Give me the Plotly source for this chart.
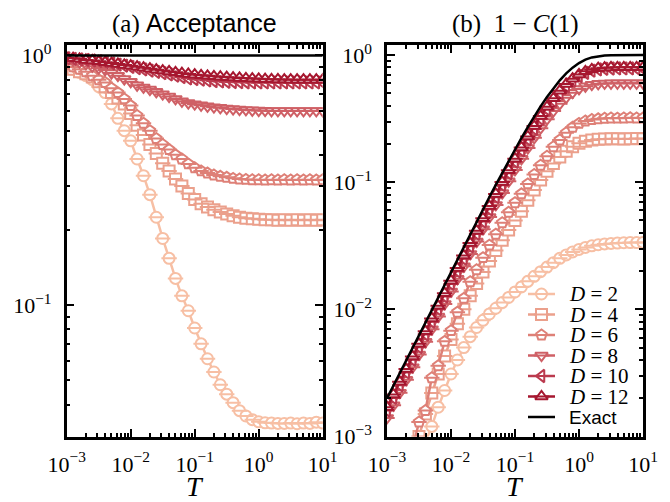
import plotly.graph_objects as go

# ---------------- data ----------------
T = [0.001, 0.001259, 0.001585, 0.001995, 0.002512, 0.003162, 0.003981, 0.005012, 0.00631, 0.007943,
     0.01, 0.01259, 0.01585, 0.01995, 0.02512, 0.03162, 0.03981, 0.05012, 0.0631, 0.07943,
     0.1, 0.1259, 0.1585, 0.1995, 0.2512, 0.3162, 0.3981, 0.5012, 0.631, 0.7943,
     1.0, 1.259, 1.585, 1.995, 2.512, 3.162, 3.981, 5.012, 6.31, 7.943, 10.0]

labels = ["2", "4", "6", "8", "10", "12"]

# (a) Acceptance
acc_D2 = [0.90, 0.88, 0.855, 0.83, 0.80, 0.75, 0.71, 0.64, 0.56, 0.50,
          0.455, 0.385, 0.33, 0.277, 0.225, 0.185, 0.154, 0.128, 0.109, 0.095,
          0.081, 0.070, 0.061, 0.054, 0.048, 0.044, 0.0407, 0.0378, 0.036, 0.0348,
          0.0341, 0.0338, 0.0337, 0.0336, 0.0336, 0.0337, 0.0335, 0.0337, 0.0336, 0.034, 0.0337]
acc_D4 = [0.90, 0.88, 0.86, 0.845, 0.82, 0.785, 0.75, 0.71, 0.675, 0.64,
          0.585, 0.525, 0.48, 0.44, 0.405, 0.37, 0.345, 0.32, 0.30, 0.28,
          0.265, 0.255, 0.247, 0.241, 0.236, 0.232, 0.228, 0.225, 0.223, 0.222,
          0.221, 0.220, 0.220, 0.219, 0.220, 0.219, 0.220, 0.219, 0.220, 0.219, 0.220]
acc_D6 = [0.92, 0.90, 0.88, 0.86, 0.83, 0.80, 0.78, 0.74, 0.71, 0.67,
          0.63, 0.575, 0.535, 0.50, 0.465, 0.44, 0.42, 0.40, 0.385, 0.368,
          0.355, 0.345, 0.338, 0.332, 0.328, 0.325, 0.322, 0.32, 0.319, 0.318,
          0.318, 0.317, 0.318, 0.317, 0.318, 0.317, 0.318, 0.317, 0.318, 0.317, 0.318]
acc_D8 = [0.97, 0.955, 0.94, 0.925, 0.905, 0.89, 0.875, 0.85, 0.83, 0.805,
          0.785, 0.76, 0.745, 0.73, 0.715, 0.70, 0.685, 0.67, 0.655, 0.645,
          0.638, 0.632, 0.626, 0.621, 0.617, 0.613, 0.61, 0.607, 0.605, 0.603,
          0.602, 0.601, 0.60, 0.60, 0.60, 0.60, 0.60, 0.60, 0.60, 0.60, 0.60]
acc_D10 = [0.975, 0.97, 0.965, 0.96, 0.955, 0.95, 0.94, 0.93, 0.92, 0.91,
           0.90, 0.89, 0.88, 0.87, 0.86, 0.85, 0.84, 0.83, 0.82, 0.81,
           0.805, 0.80, 0.795, 0.79, 0.787, 0.785, 0.783, 0.782, 0.781, 0.78,
           0.78, 0.78, 0.78, 0.78, 0.78, 0.78, 0.78, 0.78, 0.78, 0.78, 0.78]
acc_D12 = [0.98, 0.975, 0.97, 0.96, 0.955, 0.948, 0.94, 0.932, 0.925, 0.917,
           0.91, 0.902, 0.893, 0.885, 0.877, 0.87, 0.863, 0.856, 0.849, 0.843,
           0.838, 0.833, 0.829, 0.825, 0.822, 0.819, 0.816, 0.813, 0.81, 0.808,
           0.806, 0.804, 0.803, 0.802, 0.801, 0.80, 0.80, 0.80, 0.80, 0.80, 0.80]
acc_exact = [1.0] * 41

# (b) 1 - C(1)
c1_D2 = [0.0001, 0.00015, 0.0002, 0.0003, 0.0005, 0.0006, 0.0009, 0.0012, 0.0017, 0.0023,
         0.0031, 0.004, 0.005, 0.0061, 0.0072, 0.0082, 0.0092, 0.0102, 0.0113, 0.0124,
         0.0137, 0.015, 0.0166, 0.0182, 0.0198, 0.0215, 0.0233, 0.0252, 0.0268, 0.0283,
         0.0296, 0.0307, 0.0316, 0.0322, 0.0327, 0.033, 0.0332, 0.0334, 0.0335, 0.0335, 0.0336]
c1_D4 = [0.00015, 0.00025, 0.00035, 0.0005, 0.0007, 0.0010, 0.0015, 0.0022, 0.0031, 0.0043,
         0.0058, 0.0077, 0.0100, 0.0128, 0.016, 0.0197, 0.024, 0.029, 0.035, 0.042,
         0.050, 0.059, 0.072, 0.087, 0.104, 0.122, 0.14, 0.158, 0.175, 0.19,
         0.202, 0.21, 0.215, 0.218, 0.219, 0.22, 0.22, 0.219, 0.22, 0.221, 0.22]
c1_D6 = [0.0002, 0.0003, 0.0004, 0.0006, 0.0008, 0.0013, 0.0016, 0.0029, 0.0036, 0.0056,
         0.0068, 0.0095, 0.0122, 0.0165, 0.0205, 0.0255, 0.032, 0.039, 0.048, 0.058,
         0.069, 0.081, 0.097, 0.115, 0.136, 0.16, 0.19, 0.215, 0.245, 0.27,
         0.29, 0.303, 0.311, 0.315, 0.318, 0.32, 0.319, 0.32, 0.321, 0.32, 0.32]
c1_D8 = [0.0014, 0.00176, 0.00221, 0.00279, 0.00351, 0.00441, 0.00555, 0.00698, 0.00877, 0.01102,
         0.01384, 0.01737, 0.02178, 0.02729, 0.03415, 0.04267, 0.05323, 0.06622, 0.08214, 0.1015,
         0.1249, 0.1528, 0.1855, 0.2233, 0.2661, 0.3131, 0.363, 0.4137, 0.4623, 0.5059,
         0.5418, 0.5682, 0.5851, 0.5943, 0.5983, 0.60, 0.60, 0.60, 0.60, 0.60, 0.60]
c1_D10 = [0.0016, 0.00201, 0.00253, 0.00319, 0.00401, 0.00504, 0.00634, 0.00798, 0.01003, 0.01261,
          0.01583, 0.01989, 0.02495, 0.03128, 0.03918, 0.04899, 0.06117, 0.07623, 0.09475, 0.1174,
          0.1448, 0.1776, 0.2167, 0.2623, 0.3146, 0.3729, 0.4362, 0.5023, 0.568, 0.6295,
          0.6827, 0.7247, 0.7539, 0.7716, 0.7803, 0.7837, 0.785, 0.785, 0.785, 0.785, 0.785]
c1_D12 = [0.0017, 0.00214, 0.00269, 0.00339, 0.00426, 0.00536, 0.00674, 0.00848, 0.01066, 0.01339,
          0.01682, 0.02112, 0.0265, 0.0332, 0.0416, 0.052, 0.0649, 0.0808, 0.1004, 0.1243,
          0.1531, 0.1878, 0.2288, 0.2764, 0.3309, 0.3914, 0.4567, 0.5242, 0.5907, 0.6521,
          0.7045, 0.7449, 0.7724, 0.7885, 0.7962, 0.799, 0.80, 0.80, 0.80, 0.80, 0.80]
c1_exact = [0.0020, 0.002515, 0.003165, 0.003982, 0.005011, 0.006305, 0.00793, 0.009974, 0.01254, 0.01576,
            0.0198, 0.02487, 0.0312, 0.03911, 0.049, 0.0613, 0.0765, 0.0954, 0.1186, 0.1469,
            0.1813, 0.2226, 0.2716, 0.329, 0.3949, 0.4687, 0.549, 0.633, 0.7169, 0.7958,
            0.8647, 0.9194, 0.958, 0.9815, 0.9934, 0.9982, 0.9997, 1.0, 1.0, 1.0, 1.0]

acc_series = [acc_D2, acc_D4, acc_D6, acc_D8, acc_D10, acc_D12]
c1_series = [c1_D2, c1_D4, c1_D6, c1_D8, c1_D10, c1_D12]

# ---------------- style ----------------
colors = ["#f7bfa4", "#eba08c", "#de8077", "#cf6066", "#bb3a4e", "#a6172f"]
symbols = ["circle", "square", "pentagon", "triangle-down", "triangle-left", "triangle-up"]
W, H = 670, 502
SERIF = "Liberation Serif"
SANS = "Liberation Sans"
NB = "\u00a0"

fig = go.Figure()

for i in range(6):
    col = colors[i]
    for xa, ya, vals in (("x", "y", acc_series[i]), ("x2", "y2", c1_series[i])):
        fig.add_trace(go.Scatter(
            x=T, y=vals, xaxis=xa, yaxis=ya, mode="lines+markers",
            line=dict(color=col, width=2.5),
            marker=dict(symbol=symbols[i], size=11, color="white", line=dict(color=col, width=2)),
            showlegend=False, hoverinfo="skip"))
        fig.add_trace(go.Scatter(
            x=T, y=vals, xaxis=xa, yaxis=ya, mode="markers",
            marker=dict(symbol="line-ew", size=11, line=dict(color=col, width=2)),
            showlegend=False, hoverinfo="skip"))

fig.add_trace(go.Scatter(x=T, y=acc_exact, xaxis="x", yaxis="y", mode="lines",
                         line=dict(color="black", width=2.5), showlegend=False, hoverinfo="skip"))
fig.add_trace(go.Scatter(x=T, y=c1_exact, xaxis="x2", yaxis="y2", mode="lines",
                         line=dict(color="black", width=2.5), showlegend=False, hoverinfo="skip"))

# ---------------- manual legend (pixel overlay axis) ----------------
leg_rows = [294, 314.5, 335, 355.5, 376, 396.5, 417]
leg_x0, leg_x1, leg_xm, leg_tx = 528, 555, 541.5, 568
for i in range(6):
    yv = leg_rows[i]
    col = colors[i]
    fig.add_trace(go.Scatter(x=[leg_x0, leg_x1], y=[yv, yv], xaxis="x3", yaxis="y3", mode="lines",
                             line=dict(color=col, width=2.5), showlegend=False, hoverinfo="skip"))
    fig.add_trace(go.Scatter(x=[leg_xm], y=[yv], xaxis="x3", yaxis="y3", mode="markers",
                             marker=dict(symbol=symbols[i], size=11, color="white",
                                         line=dict(color=col, width=2)),
                             showlegend=False, hoverinfo="skip"))
    fig.add_trace(go.Scatter(x=[leg_xm], y=[yv], xaxis="x3", yaxis="y3", mode="markers",
                             marker=dict(symbol="line-ew", size=11, line=dict(color=col, width=2)),
                             showlegend=False, hoverinfo="skip"))
    fig.add_annotation(x=leg_tx / W, y=1 - yv / H, xref="paper", yref="paper",
                       text="<i>D</i>" + NB + "=" + NB + labels[i], showarrow=False,
                       xanchor="left", yanchor="middle", borderpad=0,
                       font=dict(family=SERIF, size=21, color="black"))
fig.add_trace(go.Scatter(x=[leg_x0, leg_x1], y=[leg_rows[6]] * 2, xaxis="x3", yaxis="y3", mode="lines",
                         line=dict(color="black", width=2.5), showlegend=False, hoverinfo="skip"))
fig.add_annotation(x=leg_tx / W, y=1 - leg_rows[6] / H, xref="paper", yref="paper",
                   text="Exact", showarrow=False, xanchor="left", yanchor="middle", borderpad=0,
                   font=dict(family=SANS, size=19, color="black"))

# ---------------- axes ----------------
def sup(e):
    return "10<sup>" + (("\u2212" + str(-e)) if e < 0 else str(e)) + "</sup>"

tickfont = dict(family=SERIF, size=22, color="black")
def log_axis(rng, tick_exps, domain, anchor, standoff):
    return dict(type="log", range=rng, domain=domain, anchor=anchor, automargin=False,
                showline=True, linecolor="black", linewidth=2.5, mirror="allticks",
                ticks="inside", ticklen=8, tickwidth=2, tickcolor="black",
                tickmode="array", tickvals=[10.0 ** e for e in tick_exps],
                ticktext=[sup(e) for e in tick_exps], ticklabelstandoff=standoff,
                minor=dict(ticks="inside", ticklen=4, tickwidth=1.5, tickcolor="black",
                           dtick="D1", showgrid=False),
                showgrid=False, zeroline=False, tickfont=tickfont, fixedrange=True)

xd1 = [66.7 / W, 322.7 / W]
xd2 = [387.0 / W, 643.0 / W]
yd = [1 - 436.5 / H, 1 - 45.0 / H]

fig.update_layout(
    width=W, height=H, autosize=False,
    margin=dict(l=0, r=0, t=0, b=0, pad=0, autoexpand=False),
    paper_bgcolor="white", plot_bgcolor="rgba(0,0,0,0)",
    xaxis=log_axis([-3, 1], [-3, -2, -1, 0, 1], xd1, "y", 6),
    yaxis=log_axis([-1.526, 0.042], [-1, 0], yd, "x", 8),
    xaxis2=log_axis([-3, 1], [-3, -2, -1, 0, 1], xd2, "y2", 6),
    yaxis2=log_axis([-3, 0.079], [-3, -2, -1, 0], yd, "x2", 8),
    xaxis3=dict(domain=[0, 1], range=[0, W], visible=False, fixedrange=True, anchor="y3",
                automargin=False),
    yaxis3=dict(domain=[0, 1], range=[H, 0], visible=False, fixedrange=True, anchor="x3",
                automargin=False),
    showlegend=False,
)

# titles
fig.add_annotation(x=(xd1[0] + xd1[1]) / 2, y=1 - 24 / H, xref="paper", yref="paper", showarrow=False,
                   text="(a)" + NB + "<span style=\"font-family:'Liberation Sans'\">Acceptance</span>",
                   font=dict(family=SERIF, size=25, color="black"), xanchor="center", yanchor="middle")
fig.add_annotation(x=(xd2[0] + xd2[1]) / 2, y=1 - 24 / H, xref="paper", yref="paper", showarrow=False,
                   text="(b)" + NB + NB + "1" + NB + "\u2212" + NB + "<i>C</i>(1)",
                   font=dict(family=SERIF, size=25, color="black"), xanchor="center", yanchor="middle")
for xd in (xd1, xd2):
    fig.add_annotation(x=(xd[0] + xd[1]) / 2, y=1 - 486 / H, xref="paper", yref="paper", showarrow=False,
                       text="<i>T</i>", font=dict(family=SERIF, size=28, color="black"),
                       xanchor="center", yanchor="middle")

fig.write_html("out.html")
